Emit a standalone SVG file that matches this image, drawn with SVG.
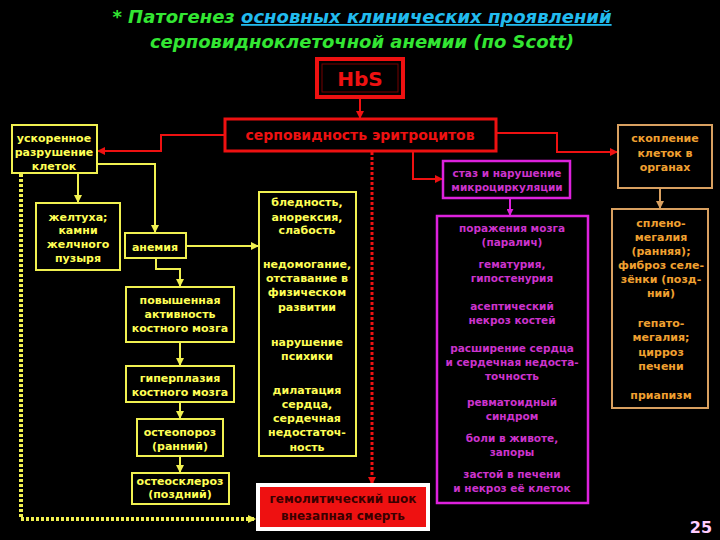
<svg xmlns="http://www.w3.org/2000/svg" width="720" height="540" viewBox="0 0 720 540">
<defs>
<style>
.ttl{font-family:"DejaVu Sans","Liberation Sans",sans-serif;font-weight:bold;font-style:italic;font-size:18px;fill:#33e633;text-anchor:middle}
.cy{fill:#22bbee;text-decoration:underline}
.yb{fill:#000;stroke:#f0f050;stroke-width:2}
.yt{font-family:"DejaVu Sans","Liberation Sans",sans-serif;font-weight:bold;font-size:11px;fill:#ffff55;text-anchor:middle}
.mb{fill:#000;stroke:#dd22dd;stroke-width:2.5}
.mt{font-family:"DejaVu Sans","Liberation Sans",sans-serif;font-weight:bold;font-size:10.5px;fill:#cc33cc;text-anchor:middle}
.ob{fill:#000;stroke:#d9a060;stroke-width:2}
.ot{font-family:"DejaVu Sans","Liberation Sans",sans-serif;font-weight:bold;font-size:11px;fill:#f0a030;text-anchor:middle}
.rb{fill:#000;stroke:#ee1111;stroke-width:3}
.rt{font-family:"DejaVu Sans","Liberation Sans",sans-serif;font-weight:bold;font-size:14px;fill:#ee1111;text-anchor:middle}
.cr{fill:none;stroke:#ee1111;stroke-width:2}
.cyl{fill:none;stroke:#f0f050;stroke-width:2}
.cm{fill:none;stroke:#dd22dd;stroke-width:2}
.co{fill:none;stroke:#d9a060;stroke-width:2}
</style>
<marker id="ar" viewBox="0 0 8 8" refX="7" refY="4" markerWidth="8" markerHeight="8" markerUnits="userSpaceOnUse" orient="auto"><path d="M0 0L8 4L0 8z" fill="#ee1111"/></marker>
<marker id="ay" viewBox="0 0 8 8" refX="7" refY="4" markerWidth="8" markerHeight="8" markerUnits="userSpaceOnUse" orient="auto"><path d="M0 0L8 4L0 8z" fill="#f0f050"/></marker>
<marker id="am" viewBox="0 0 8 8" refX="7" refY="4" markerWidth="7" markerHeight="7" markerUnits="userSpaceOnUse" orient="auto"><path d="M0 0L8 4L0 8z" fill="#dd22dd"/></marker>
<marker id="ao" viewBox="0 0 8 8" refX="7" refY="4" markerWidth="8" markerHeight="8" markerUnits="userSpaceOnUse" orient="auto"><path d="M0 0L8 4L0 8z" fill="#d9a060"/></marker>
</defs>
<rect x="0" y="0" width="720" height="540" fill="#000"/>

<g id="title">
<text class="ttl" x="362" y="23">*  Патогенез <tspan class="cy">основных клинических проявлений</tspan></text>
<text class="ttl" x="362" y="48">серповидноклеточной анемии (по Scott)</text>
</g>

<g id="connectors">
<path class="cr" d="M360 99V118" marker-end="url(#ar)"/>
<path class="cr" d="M225 135H161V151H98" marker-end="url(#ar)"/>
<path class="cr" d="M496 133H557V152H617" marker-end="url(#ar)"/>
<path class="cr" d="M413 151V179H442" marker-end="url(#ar)"/>
<path fill="none" stroke="#ee1111" stroke-width="3" stroke-dasharray="3 2" d="M372 152V484" marker-end="url(#ar)"/>
<path class="cyl" d="M78 173V202" marker-end="url(#ay)"/>
<path class="cyl" d="M97 164H155V232" marker-end="url(#ay)"/>
<path class="cyl" d="M186 246H258" marker-end="url(#ay)"/>
<path class="cyl" d="M156 258V269H180V286" marker-end="url(#ay)"/>
<path class="cyl" d="M180 342V365" marker-end="url(#ay)"/>
<path class="cyl" d="M180 402V418" marker-end="url(#ay)"/>
<path class="cyl" d="M180 456V472" marker-end="url(#ay)"/>
<path fill="none" stroke="#f0f050" stroke-width="4" stroke-dasharray="3 2" d="M21 174V519H255" marker-end="url(#ay)"/>
<path class="cm" d="M510 198V215" marker-end="url(#am)"/>
<path class="co" d="M660 188V208" marker-end="url(#ao)"/>
</g>

<g id="hbs">
<rect x="317" y="59" width="86" height="38" fill="#000" stroke="#ee1111" stroke-width="4"/>
<rect x="322" y="64" width="76" height="28" fill="none" stroke="#770000" stroke-width="1"/>
<text x="360" y="86" font-family="DejaVu Sans, sans-serif" font-weight="bold" font-size="20" fill="#ee1111" text-anchor="middle">HbS</text>
</g>

<g id="sickle">
<rect class="rb" x="225" y="119" width="271" height="32"/>
<text class="rt" x="360" y="140">серповидность эритроцитов</text>
</g>

<g id="destruction">
<rect class="yb" x="12" y="125" width="85" height="48"/>
<text class="yt"><tspan x="54" y="142">ускоренное</tspan><tspan x="54" y="156">разрушение</tspan><tspan x="54" y="170">клеток</tspan></text>
</g>

<g id="jaundice">
<rect class="yb" x="36" y="203" width="84" height="67"/>
<text class="yt"><tspan x="78" y="221">желтуха;</tspan><tspan x="78" y="234">камни</tspan><tspan x="78" y="248">желчного</tspan><tspan x="78" y="262">пузыря</tspan></text>
</g>

<g id="anemia">
<rect class="yb" x="125" y="233" width="61" height="25"/>
<text class="yt" x="155" y="251">анемия</text>
</g>

<g id="marrow-activity">
<rect class="yb" x="126" y="287" width="108" height="55"/>
<text class="yt"><tspan x="180" y="304">повышенная</tspan><tspan x="180" y="318">активность</tspan><tspan x="180" y="332">костного мозга</tspan></text>
</g>

<g id="hyperplasia">
<rect class="yb" x="126" y="366" width="108" height="36"/>
<text class="yt"><tspan x="180" y="382">гиперплазия</tspan><tspan x="180" y="396">костного мозга</tspan></text>
</g>

<g id="osteoporosis">
<rect class="yb" x="137" y="419" width="86" height="37"/>
<text class="yt"><tspan x="180" y="436">остеопороз</tspan><tspan x="180" y="450">(ранний)</tspan></text>
</g>

<g id="osteosclerosis">
<rect class="yb" x="132" y="473" width="97" height="31"/>
<text class="yt"><tspan x="180" y="485">остеосклероз</tspan><tspan x="180" y="498">(поздний)</tspan></text>
</g>

<g id="symptoms">
<rect class="yb" x="259" y="192" width="97" height="264"/>
<text class="yt"><tspan x="307" y="206">бледность,</tspan><tspan x="307" y="221">анорексия,</tspan><tspan x="307" y="234">слабость</tspan><tspan x="307" y="268">недомогание,</tspan><tspan x="307" y="282">отставание в</tspan><tspan x="307" y="296">физическом</tspan><tspan x="307" y="311">развитии</tspan><tspan x="307" y="346">нарушение</tspan><tspan x="307" y="360">психики</tspan><tspan x="307" y="394">дилатация</tspan><tspan x="307" y="408">сердца,</tspan><tspan x="307" y="422">сердечная</tspan><tspan x="307" y="436">недостаточ-</tspan><tspan x="307" y="451">ность</tspan></text>
</g>

<g id="shock">
<rect x="258" y="485" width="170" height="44" fill="#ee1111" stroke="#ffffff" stroke-width="4"/>
<text font-family="DejaVu Sans, sans-serif" font-weight="bold" font-size="12" fill="#3a0000" text-anchor="middle"><tspan x="343" y="503">гемолитический шок</tspan><tspan x="343" y="520">внезапная смерть</tspan></text>
</g>

<g id="stasis">
<rect class="mb" x="443" y="161" width="127" height="37"/>
<text class="mt"><tspan x="507" y="177">стаз  и нарушение</tspan><tspan x="507" y="191">микроциркуляции</tspan></text>
</g>

<g id="organ-damage">
<rect class="mb" x="437" y="216" width="151" height="287"/>
<text class="mt"><tspan x="512" y="232">поражения мозга</tspan><tspan x="512" y="246">(паралич)</tspan><tspan x="512" y="268">гематурия,</tspan><tspan x="512" y="282">гипостенурия</tspan><tspan x="512" y="310">асептический</tspan><tspan x="512" y="324">некроз костей</tspan><tspan x="512" y="352">расширение сердца</tspan><tspan x="512" y="366">и сердечная недоста-</tspan><tspan x="512" y="380">точность</tspan><tspan x="512" y="406">ревматоидный</tspan><tspan x="512" y="420">синдром</tspan><tspan x="512" y="442">боли в животе,</tspan><tspan x="512" y="456">запоры</tspan><tspan x="512" y="478">застой в печени</tspan><tspan x="512" y="492">и некроз её клеток</tspan></text>
</g>

<g id="accumulation">
<rect class="ob" x="618" y="125" width="94" height="63"/>
<text class="ot"><tspan x="665" y="142">скопление</tspan><tspan x="665" y="157">клеток в</tspan><tspan x="665" y="171">органах</tspan></text>
</g>

<g id="spleen-liver">
<rect class="ob" x="612" y="209" width="96" height="199"/>
<text class="ot"><tspan x="661" y="227">сплено-</tspan><tspan x="661" y="241">мегалия</tspan><tspan x="661" y="255">(ранняя);</tspan><tspan x="661" y="269">фиброз селе-</tspan><tspan x="661" y="283">зёнки (позд-</tspan><tspan x="661" y="297">ний)</tspan><tspan x="661" y="327">гепато-</tspan><tspan x="661" y="341">мегалия;</tspan><tspan x="661" y="356">цирроз</tspan><tspan x="661" y="370">печени</tspan><tspan x="661" y="399">приапизм</tspan></text>
</g>

<text x="701" y="533" font-family="DejaVu Sans, sans-serif" font-weight="bold" font-size="16" fill="#ffccff" text-anchor="middle">25</text>
</svg>
